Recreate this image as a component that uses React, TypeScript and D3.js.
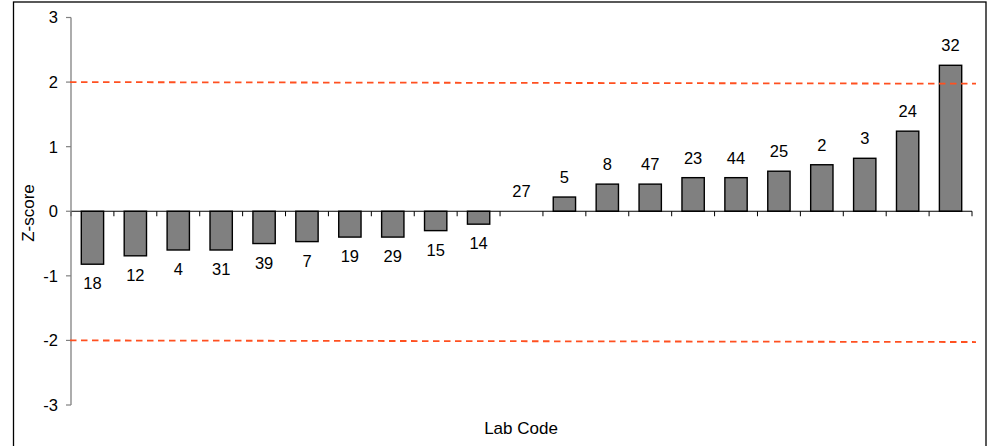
import React from "react";
import * as d3 from "d3";

const labCodes = ["18", "12", "4", "31", "39", "7", "19", "29", "15", "14", "27", "5", "8", "47", "23", "44", "25", "2", "3", "24", "32"];
const zScores = [-0.82, -0.69, -0.6, -0.6, -0.5, -0.47, -0.4, -0.4, -0.3, -0.2, 0, 0.22, 0.42, 0.42, 0.52, 0.52, 0.62, 0.72, 0.82, 1.24, 2.26];
const yTicks = [-3, -2, -1, 0, 1, 2, 3];
const upperLimit = [2.0, 1.975];
const lowerLimit = [-2.0, -2.025];

const W = 994;
const H = 446;
const FONT = "'Liberation Sans', Arial, sans-serif";

export default function App() {
  const x = d3.scaleBand<string>().domain(labCodes).range([71, 972]).padding(0);
  const y = d3.scaleLinear().domain([-3, 3]).range([405, 17.5]);
  const lx = d3.scaleLinear().domain([0, 1]).range([70, 976]);
  const bw = x.bandwidth() * 0.52;
  const line = d3
    .line<number>()
    .x((_, i) => lx(i))
    .y((d) => y(d));
  const boundaries = d3.range(labCodes.length + 1).map((i) => 71 + i * x.bandwidth());

  return (
    <svg
      width={W}
      height={H}
      style={{ position: "absolute", left: 0, top: 0, background: "#fff" }}
      fontFamily={FONT}
    >
      <rect x={13.5} y={2} width={972.5} height={460} fill="#fff" stroke="#000" strokeWidth={1.3} />
      {/* bars */}
      {labCodes.map((c, i) => {
        const v = zScores[i];
        const cx = (x(c) as number) + x.bandwidth() / 2;
        const y0 = y(0);
        const y1 = y(v);
        return (
          <g key={c}>
            {v !== 0 && (
              <rect
                x={cx - bw / 2}
                y={Math.min(y0, y1)}
                width={bw}
                height={Math.abs(y1 - y0)}
                fill="#808080"
                stroke="#000"
                strokeWidth={1.4}
              />
            )}
            <text
              x={cx}
              y={v >= 0 ? y1 - 14 : y1 + 25}
              textAnchor="middle"
              fontSize={16.5}
              fill="#000"
            >
              {c}
            </text>
          </g>
        );
      })}
      {/* x axis at zero */}
      <line x1={71} x2={972} y1={y(0)} y2={y(0)} stroke="#000" strokeWidth={1.2} />
      {boundaries.map((bx, i) => (
        <line key={i} x1={bx} x2={bx} y1={y(0)} y2={y(0) + 5} stroke="#000" strokeWidth={1} />
      ))}
      {/* y axis */}
      <line x1={71} x2={71} y1={y(-3)} y2={y(3)} stroke="#808080" strokeWidth={1.3} />
      {yTicks.map((t) => (
        <g key={t}>
          <line x1={66} x2={71} y1={y(t)} y2={y(t)} stroke="#808080" strokeWidth={1.2} />
          <text x={58} y={y(t)} dy="0.36em" textAnchor="end" fontSize={16.5} fill="#000">
            {t}
          </text>
        </g>
      ))}
      {/* limit lines */}
      <path d={line(upperLimit) as string} fill="none" stroke="#FF5020" strokeWidth={1.8} strokeDasharray="6.5 4.5" />
      <path d={line(lowerLimit) as string} fill="none" stroke="#FF5020" strokeWidth={1.8} strokeDasharray="6.5 4.5" />
      {/* titles */}
      <text x={521} y={434} textAnchor="middle" fontSize={17} fill="#000">
        Lab Code
      </text>
      <text
        transform={`translate(34,213) rotate(-90)`}
        textAnchor="middle"
        fontSize={17}
        fill="#000"
      >
        Z-score
      </text>
    </svg>
  );
}
